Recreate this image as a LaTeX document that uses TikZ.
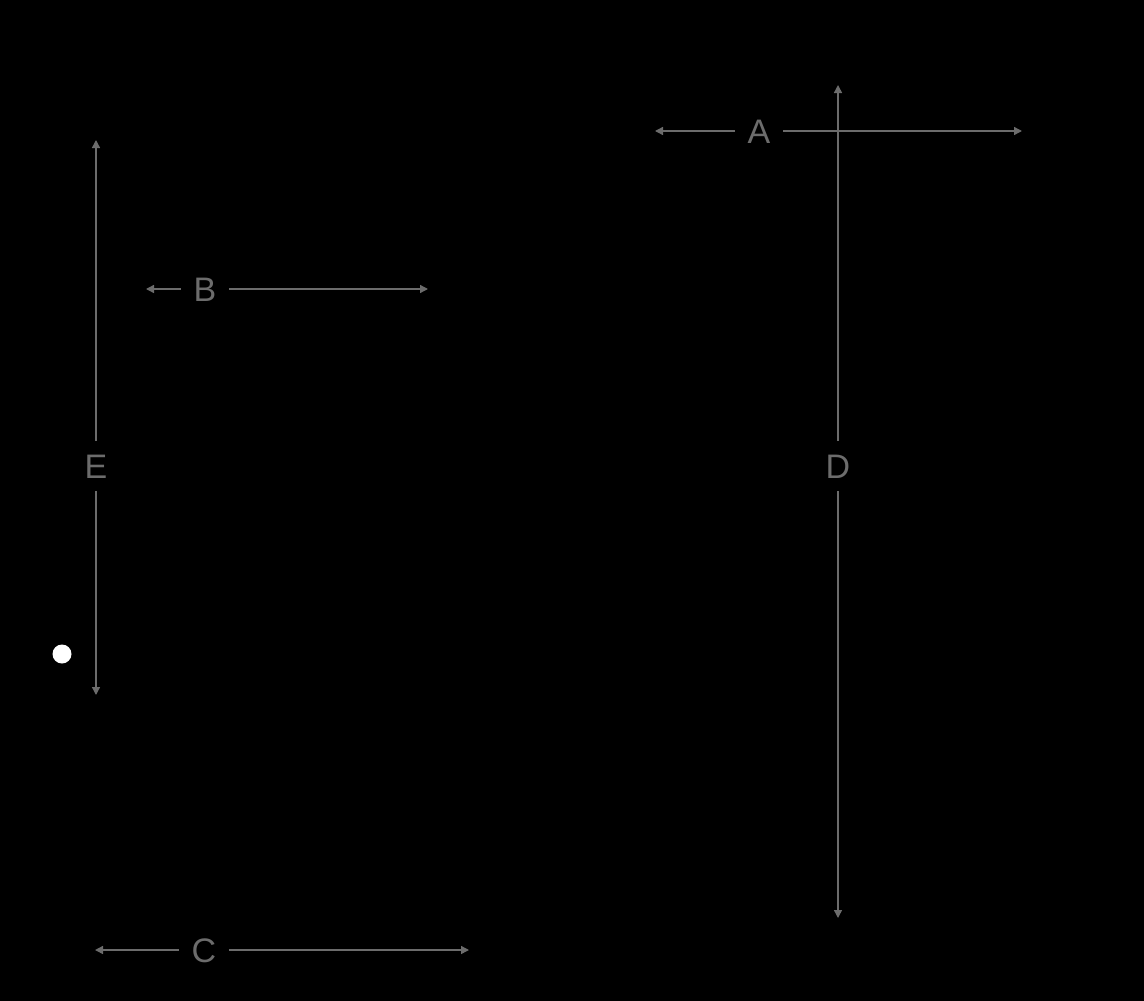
\documentclass[tikz,border=0pt]{standalone}
\usepackage{fontspec}
\setmainfont{Liberation Sans}
\usepackage{xcolor}
\usepackage{tikz}
\usetikzlibrary{arrows.meta}
\definecolor{dimgray}{RGB}{108,108,108}

\begin{document}
\begin{tikzpicture}[x=1pt, y=-1pt,
  dimline/.style={draw=dimgray, line width=1.4pt, -{Triangle[length=8pt,width=8pt]}},
  dimlabel/.style={text=dimgray, font=\fontsize{34}{34}\selectfont, text height=24.5pt, text depth=0pt, inner sep=12.5pt}]
\fill[black] (0,0) rectangle (1144,1001);
\useasboundingbox (0,0) rectangle (1144,1001);
% labels
\node[dimlabel] (A) at (759,131) {A};
\node[dimlabel] (B) at (205,289) {B};
\node[dimlabel] (C) at (204,950) {C};
\node[dimlabel] (D) at (838,466) {D};
\node[dimlabel] (E) at (96,466) {E};
% arrow ends
\coordinate (A-l) at (655,131);
\coordinate (A-r) at (1022,131);
\coordinate (B-l) at (146,289);
\coordinate (B-r) at (428,289);
\coordinate (C-l) at (95,950);
\coordinate (C-r) at (469,950);
\coordinate (D-t) at (838,85);
\coordinate (D-b) at (838,918);
\coordinate (E-t) at (96,140);
\coordinate (E-b) at (96,695);
\draw[dimline] (A) -- (A-l);
\draw[dimline] (A) -- (A-r);
\draw[dimline] (B) -- (B-l);
\draw[dimline] (B) -- (B-r);
\draw[dimline] (C) -- (C-l);
\draw[dimline] (C) -- (C-r);
\draw[dimline] (D) -- (D-t);
\draw[dimline] (D) -- (D-b);
\draw[dimline] (E) -- (E-t);
\draw[dimline] (E) -- (E-b);
\node[circle, fill=white, inner sep=0pt, minimum size=19pt] (dot) at (62,654) {};
\end{tikzpicture}
\end{document}
